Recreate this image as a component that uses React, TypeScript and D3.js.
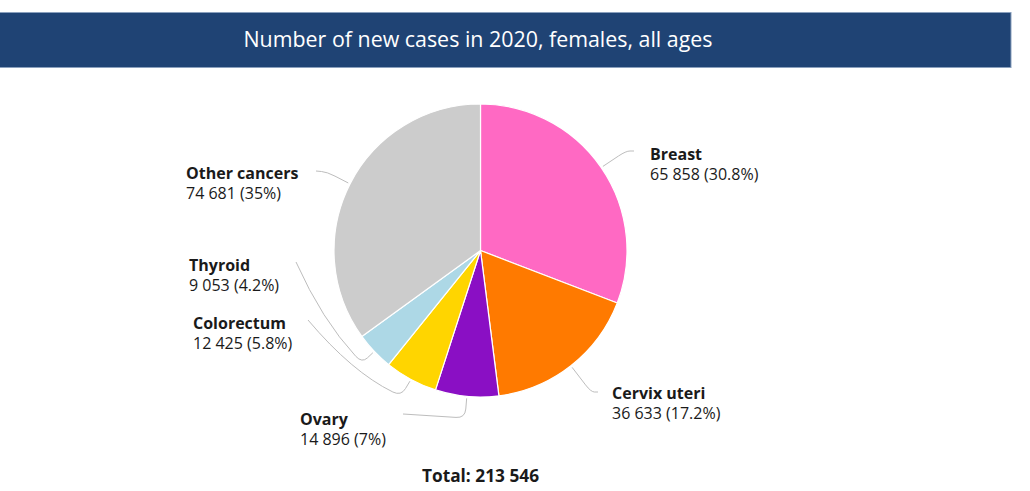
import React, { useRef, useEffect } from 'react';
import * as d3 from 'd3';

const categories = ['Breast', 'Cervix uteri', 'Ovary', 'Colorectum', 'Thyroid', 'Other cancers'];
const cases = [65858, 36633, 14896, 12425, 9053, 74681];
const shares = ['30.8%', '17.2%', '7%', '5.8%', '4.2%', '35%'];
const colors = ['#FF69C3', '#FF7A00', '#8A0FC4', '#FFD500', '#ADD8E6', '#CCCCCC'];
const title = 'Number of new cases in 2020, females, all ages';

// label placement (connector crook, optional bend, connector tip, text anchor)
const labelLayout = [
    { crook: [626, 151], tip: [634, 151], text: [650, 160] },
    { crook: [591, 392], tip: [598, 392], text: [612, 399] },
    { crook: [465, 418], tip: [403, 414], text: [300, 425] },
    { crook: [401, 396], tip: [308, 320], text: [193, 329], bend: [352, 372] },
    { crook: [362, 363], tip: [296, 262], text: [189, 271], bend: [322, 320] },
    { crook: [327, 172], tip: [316, 171], text: [186, 179] },
];

const fmt = d3.formatLocale({ decimal: '.', thousands: ' ', grouping: [3], currency: ['', ''] }).format(',d');

const App = () => {
    const svgRef = useRef<SVGSVGElement>(null);
    const width = 1030;
    const height = 491;

    useEffect(() => {
        const svg = d3.select(svgRef.current);
        svg.selectAll('*').remove();

        const cx = 480.5;
        const cy = 250.5;
        const radius = 146.5;

        // header bar
        svg.append('rect')
            .attr('x', -1).attr('y', 12.5)
            .attr('width', 1012).attr('height', 55)
            .attr('fill', '#1F4374')
            .attr('stroke', '#8aa0bd').attr('stroke-width', 1);
        svg.append('text')
            .attr('x', 478).attr('y', 47)
            .attr('text-anchor', 'middle')
            .attr('fill', '#ffffff')
            .attr('font-size', 21.4)
            .text(title);

        const data = categories.map((c, i) => ({ name: c, value: cases[i], share: shares[i], color: colors[i], layout: labelLayout[i] }));
        const pie = d3.pie<any>().sort(null).value(d => d.value);
        const arcs = pie(data);
        const arc = d3.arc<any>().innerRadius(0).outerRadius(radius);

        const g = svg.append('g').attr('transform', `translate(${cx},${cy})`);
        g.selectAll('path.slice')
            .data(arcs)
            .join('path')
            .attr('class', 'slice')
            .attr('d', arc)
            .attr('fill', d => d.data.color)
            .attr('stroke', '#ffffff')
            .attr('stroke-width', 1.2)
            .attr('stroke-linejoin', 'round');

        // connectors
        const connector = (d: any) => {
            const mid = (d.startAngle + d.endAngle) / 2;
            const r0 = radius + 2;
            const start = [cx + r0 * Math.sin(mid), cy - r0 * Math.cos(mid)];
            const [kx, ky] = d.data.layout.crook;
            const [tx, ty] = d.data.layout.tip;
            const bend = d.data.layout.bend;
            const rc = 9;
            const toward = (ax: number, ay: number, bx: number, by: number, dist: number) => {
                const len = Math.hypot(bx - ax, by - ay) || 1;
                const k = Math.min(dist, len / 2) / len;
                return [ax + (bx - ax) * k, ay + (by - ay) * k];
            };
            const p1 = toward(kx, ky, start[0], start[1], rc);
            const p2 = toward(kx, ky, bend ? bend[0] : tx, bend ? bend[1] : ty, rc);
            const p = d3.path();
            p.moveTo(start[0], start[1]);
            p.lineTo(p1[0], p1[1]);
            p.quadraticCurveTo(kx, ky, p2[0], p2[1]);
            if (bend) p.quadraticCurveTo(bend[0], bend[1], tx, ty);
            else p.lineTo(tx, ty);
            return p.toString();
        };

        svg.selectAll('path.connector')
            .data(arcs)
            .join('path')
            .attr('class', 'connector')
            .attr('d', connector)
            .attr('fill', 'none')
            .attr('stroke', '#bdbdbd')
            .attr('stroke-width', 1);

        const labels = svg.selectAll('g.label')
            .data(arcs)
            .join('g')
            .attr('class', 'label')
            .attr('transform', d => `translate(${d.data.layout.text[0]},${d.data.layout.text[1]})`);
        labels.append('text')
            .attr('font-weight', 'bold')
            .attr('font-size', 16)
            .attr('fill', '#1a1a1a')
            .text(d => d.data.name);
        labels.append('text')
            .attr('y', 20)
            .attr('font-size', 16)
            .attr('fill', '#1a1a1a')
            .text(d => `${fmt(d.data.value)} (${d.data.share})`);

        svg.append('text')
            .attr('x', cx).attr('y', 482)
            .attr('text-anchor', 'middle')
            .attr('font-weight', 'bold')
            .attr('font-size', 17.3)
            .attr('fill', '#1a1a1a')
            .text(`Total: ${fmt(d3.sum(cases))}`);
    }, []);

    return (
        <svg
            ref={svgRef}
            width={width}
            height={height}
            style={{ position: 'absolute', left: 0, top: 0, background: '#ffffff', fontFamily: '"Open Sans", sans-serif' }}
        />
    );
};

export default App;
